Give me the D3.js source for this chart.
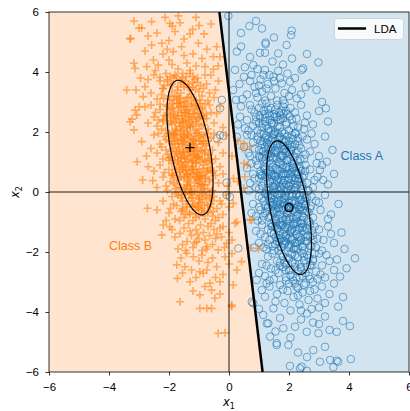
<!DOCTYPE html>
<html>
<head>
<meta charset="utf-8">
<script src="https://cdn.jsdelivr.net/npm/d3@7"></script>
<style>
  body { margin: 0; background: #fff; }
  svg { display: block; font-family: "Liberation Sans", Arial, sans-serif; }
</style>
</head>
<body>
<div id="chart"></div>
<script>
// axis ticks
var xTicks = [-6, -4, -2, 0, 2, 4, 6];
var yTicks = [-6, -4, -2, 0, 2, 4, 6];

// class means and covariance (sxx, sxy, syy) used for the 1-sigma ellipses
var classAMean = [2.0, -0.52];
var classACov = [0.56, -0.87, 4.96];
var classBMean = [-1.3, 1.48];
var classBCov = [0.59, -0.88, 5.04];

// LDA decision boundary, x at top (y=6) and bottom (y=-6)
var ldaBoundary = [[-0.32, 6], [1.12, -6]];

// text labels (data coords)
var classLabels = [
  {name: "Class A", x: 3.72, y: 1.22, cls: "A"},
  {name: "Class B", x: -4.0, y: -1.79, cls: "B"}
];

// class A samples (circles)
var classA = [
[-0.02,5.87],[0.68,5.53],[2.09,5.38],[2.07,5.23],[0.9,5.7],[1.5,5.15],[0.4,5.3],[1.1,5.45],
[1.22,4.98],[1.22,4.93],[1.03,4.64],[1.2,4.64],[1.64,4.62],[1.92,4.9],[0.26,4.68],[2.98,4.32],[2.42,4.07],[2.47,4.12],[0.81,4.23],[0.53,4.16],[0.2,4.07],[1.2,4.07],[1.64,4.04],[0.7,4.5],[1.45,4.35],[2.1,4.45],[0.95,4.1],[1.8,4.25],[0.4,4.85],[2.6,4.6],
[0.5,3.84],[1.48,3.84],[1.76,3.62],[2.03,3.68],[2.7,3.62],[2.92,3.4],[2.26,3.12],[0.14,3.4],[0.23,3.07],[0.35,3.6],[0.6,3.25],[0.75,3.9],[0.85,3.5],[0.95,3.15],[1.05,3.75],[1.1,3.35],[1.2,3.05],[1.3,3.6],[1.35,3.9],[1.4,3.2],[1.55,3.45],[1.6,3.05],[1.7,3.8],[1.85,3.3],[1.95,3.95],[2.1,3.4],[2.2,3.8],[2.4,3.25],[2.55,3.5],[1.0,3.55],[1.25,3.45],[0.45,3.1],[0.7,3.7],[1.5,3.7],[1.8,3.05],[2.0,3.2],[1.15,3.9],[0.9,3.3],[3.1,3.0],[-0.24,3.07],
[3.23,2.79],[2.53,2.31],[0.37,2.51],[0.53,2.12],[0.4,2.85],[0.6,2.4],[0.7,2.9],[0.8,2.2],[0.85,2.65],[0.95,2.05],[1.0,2.8],[1.05,2.45],[1.1,2.15],[1.15,2.7],[1.2,2.35],[1.25,2.95],[1.3,2.1],[1.35,2.55],[1.4,2.8],[1.45,2.25],[1.5,2.6],[1.55,2.0],[1.6,2.9],[1.65,2.4],[1.7,2.15],[1.75,2.7],[1.8,2.45],[1.85,2.95],[1.9,2.25],[1.95,2.6],[2.0,2.05],[2.05,2.8],[2.1,2.4],[2.2,2.65],[2.3,2.15],[2.4,2.9],[2.6,2.55],[2.8,2.25],[3.0,2.7],[1.0,2.3],[1.2,2.6],[1.4,2.05],[1.6,2.5],[1.8,2.85],[1.3,2.75],[1.1,2.95],[0.9,2.5],[1.5,2.3],[1.7,2.55],[2.15,2.2],[0.75,2.75],[1.25,2.2],[1.9,2.7],[2.5,2.1],[0.65,2.05],[1.55,2.75],[2.25,2.45],[0.3,2.25],[3.3,2.35],[-0.3,2.79],
[3.26,1.01],[0.26,1.84],[-0.41,1.79],[-0.19,1.87],[-0.3,1.9],[0.5,1.5],[0.6,1.9],[0.7,1.2],[0.8,1.65],[0.9,1.05],[0.95,1.85],[1.0,1.4],[1.05,1.7],[1.1,1.15],[1.15,1.95],[1.2,1.5],[1.25,1.25],[1.3,1.75],[1.35,1.05],[1.4,1.6],[1.45,1.9],[1.5,1.3],[1.55,1.7],[1.6,1.1],[1.65,1.45],[1.7,1.85],[1.75,1.2],[1.8,1.55],[1.85,1.95],[1.9,1.35],[1.95,1.05],[2.0,1.7],[2.05,1.4],[2.1,1.9],[2.15,1.15],[2.2,1.6],[2.25,1.3],[2.3,1.8],[2.4,1.45],[2.5,1.1],[2.6,1.75],[2.7,1.35],[2.85,1.6],[3.0,1.2],[3.2,1.85],[3.45,1.4],[1.0,1.2],[1.2,1.8],[1.4,1.3],[1.6,1.55],[1.8,1.2],[2.0,1.35],[2.2,1.95],[1.1,1.6],[1.3,1.45],[1.5,1.95],[1.7,1.6],[1.9,1.7],[2.1,1.5],[2.3,1.05],[0.85,1.45],[1.45,1.15],[1.65,1.75],[1.85,1.45],[2.45,1.85],[0.75,1.9],[1.25,1.65],[2.05,1.1],[2.35,1.55],[2.75,1.95],[1.55,1.4],[1.75,1.05],[1.15,1.35],[1.95,1.55],[0.65,1.3],[2.55,1.25],
[2.92,0.96],[3.03,0.73],[3.14,0.4],[-0.08,0.31],[0.6,0.8],[0.7,0.3],[0.8,0.6],[0.9,0.15],[0.95,0.9],[1.0,0.45],[1.05,0.7],[1.1,0.2],[1.15,0.85],[1.2,0.5],[1.25,0.05],[1.3,0.65],[1.35,0.35],[1.4,0.95],[1.45,0.2],[1.5,0.55],[1.55,0.8],[1.6,0.1],[1.65,0.45],[1.7,0.7],[1.75,0.25],[1.8,0.9],[1.85,0.4],[1.9,0.6],[1.95,0.05],[2.0,0.75],[2.05,0.3],[2.1,0.5],[2.15,0.95],[2.2,0.15],[2.25,0.65],[2.3,0.35],[2.35,0.85],[2.4,0.1],[2.5,0.55],[2.6,0.3],[2.7,0.75],[2.8,0.15],[2.95,0.5],[3.3,0.25],[3.5,0.6],[1.1,0.55],[1.3,0.3],[1.5,0.15],[1.7,0.95],[1.9,0.25],[2.1,0.8],[2.3,0.6],[1.2,0.8],[1.4,0.6],[1.6,0.35],[1.8,0.55],[2.0,0.4],[2.2,0.45],[2.4,0.7],[1.0,0.1],[1.15,0.35],[1.35,0.75],[1.55,0.5],[1.75,0.6],[1.95,0.85],[2.15,0.25],[2.35,0.45],[2.55,0.9],[2.65,0.05],[0.85,0.45],[1.25,0.95],[1.45,0.4],[1.65,0.05],[1.85,0.15],[2.05,0.6],[2.25,0.85],[2.45,0.25],[0.75,0.95],[3.1,0.9],[1.05,0.6],[1.6,0.75],[2.0,0.2],[2.85,0.4],[1.8,0.3],[2.2,0.7],[0.65,0.05],
[0.03,-0.16],[-0.08,-0.1],[0.8,-0.4],[0.9,-0.8],[1.0,-0.15],[1.05,-0.6],[1.1,-0.95],[1.15,-0.3],[1.2,-0.7],[1.25,-0.05],[1.3,-0.5],[1.35,-0.85],[1.4,-0.2],[1.45,-0.65],[1.5,-0.4],[1.55,-0.9],[1.6,-0.1],[1.65,-0.55],[1.7,-0.75],[1.75,-0.25],[1.8,-0.95],[1.85,-0.45],[1.9,-0.15],[1.95,-0.7],[2.0,-0.35],[2.05,-0.85],[2.1,-0.05],[2.15,-0.6],[2.2,-0.3],[2.25,-0.8],[2.3,-0.5],[2.35,-0.15],[2.4,-0.95],[2.45,-0.4],[2.5,-0.7],[2.6,-0.2],[2.7,-0.55],[2.8,-0.85],[2.9,-0.3],[3.05,-0.6],[3.2,-0.1],[3.4,-0.75],[3.65,-0.4],[1.2,-0.45],[1.4,-0.8],[1.6,-0.35],[1.8,-0.6],[2.0,-0.9],[2.2,-0.55],[2.4,-0.25],[2.6,-0.65],[1.3,-0.15],[1.5,-0.7],[1.7,-0.4],[1.9,-0.85],[2.1,-0.35],[2.3,-0.75],[2.5,-0.1],[1.0,-0.5],[1.15,-0.8],[1.35,-0.3],[1.55,-0.55],[1.75,-0.05],[1.95,-0.45],[2.15,-0.9],[2.35,-0.6],[2.55,-0.45],[2.75,-0.15],[0.95,-0.95],[1.25,-0.65],[1.45,-0.1],[1.65,-0.9],[1.85,-0.25],[2.05,-0.55],[2.25,-0.1],[2.45,-0.8],[2.65,-0.95],[3.0,-0.35],[1.1,-0.2],[1.6,-0.65],[2.0,-0.1],[2.4,-0.5],[0.75,-0.7],[3.3,-0.9],[1.9,-0.55],[1.5,-0.25],
[0.31,-1.88],[0.9,-1.3],[1.0,-1.7],[1.1,-1.1],[1.2,-1.5],[1.25,-1.9],[1.3,-1.25],[1.35,-1.6],[1.4,-1.05],[1.45,-1.8],[1.5,-1.4],[1.55,-1.15],[1.6,-1.65],[1.65,-1.95],[1.7,-1.3],[1.75,-1.55],[1.8,-1.1],[1.85,-1.75],[1.9,-1.45],[1.95,-1.2],[2.0,-1.85],[2.05,-1.35],[2.1,-1.6],[2.15,-1.05],[2.2,-1.7],[2.25,-1.4],[2.3,-1.9],[2.35,-1.2],[2.4,-1.55],[2.45,-1.8],[2.5,-1.3],[2.6,-1.65],[2.7,-1.1],[2.8,-1.45],[2.9,-1.85],[3.0,-1.25],[3.15,-1.6],[3.3,-1.15],[3.5,-1.7],[3.75,-1.35],[1.3,-1.75],[1.5,-1.95],[1.7,-1.1],[1.9,-1.65],[2.1,-1.25],[2.3,-1.5],[2.5,-1.95],[2.7,-1.5],[1.4,-1.35],[1.6,-1.2],[1.8,-1.4],[2.0,-1.15],[2.2,-1.3],[2.4,-1.05],[2.6,-1.25],[1.15,-1.85],[1.55,-1.5],[1.75,-1.85],[1.95,-1.55],[2.15,-1.9],[2.35,-1.65],[2.55,-1.5],[2.85,-1.15],[1.05,-1.4],[1.65,-1.45],[2.05,-1.75],[2.45,-1.2],[3.1,-1.95],[0.85,-1.85],[1.85,-1.25],[2.25,-1.05],[3.4,-1.4],[2.95,-1.55],[1.45,-1.15],[2.75,-1.8],[3.85,-1.9],
[0.92,-2.93],[4.2,-2.21],[3.92,-2.54],[3.7,-2.82],[1.1,-2.4],[1.2,-2.8],[1.3,-2.15],[1.4,-2.55],[1.5,-2.9],[1.6,-2.3],[1.65,-2.7],[1.75,-2.05],[1.8,-2.5],[1.9,-2.85],[1.95,-2.2],[2.0,-2.6],[2.1,-2.35],[2.15,-2.95],[2.2,-2.1],[2.3,-2.65],[2.35,-2.4],[2.45,-2.8],[2.5,-2.15],[2.6,-2.5],[2.7,-2.9],[2.8,-2.3],[2.9,-2.65],[3.0,-2.05],[3.1,-2.45],[3.2,-2.85],[3.35,-2.3],[3.5,-2.6],[1.45,-2.05],[1.85,-2.35],[2.25,-2.85],[2.65,-2.2],[3.05,-2.75],[1.0,-2.7],[1.35,-2.95],[2.05,-2.05],[2.4,-2.55],[2.75,-2.45],[1.7,-2.45],[2.55,-2.7],[3.25,-2.1],[2.85,-2.05],[1.55,-2.6],[1.25,-2.45],[2.95,-2.9],[3.6,-2.25],[1.9,-2.6],[2.2,-2.5],
[1.09,-3.27],[1.2,-3.49],[1.48,-3.88],[0.76,-3.66],[0.81,-3.71],[3.64,-3.82],[1.35,-3.15],[1.6,-3.4],[1.7,-3.1],[1.85,-3.7],[1.95,-3.3],[2.05,-3.95],[2.15,-3.5],[2.25,-3.15],[2.35,-3.75],[2.45,-3.35],[2.55,-3.05],[2.65,-3.6],[2.75,-3.9],[2.85,-3.25],[2.95,-3.55],[3.1,-3.15],[3.2,-3.7],[3.35,-3.4],[3.5,-3.05],[3.8,-3.5],[1.0,-3.9],[1.55,-3.65],[2.0,-3.05],[2.4,-3.95],[2.7,-3.3],[3.0,-3.85],[1.25,-3.05],[1.8,-3.25],[2.3,-3.45],
[4.03,-4.47],[3.59,-4.66],[1.37,-4.82],[1.14,-4.1],[1.26,-4.38],[2.59,-4.66],[2.98,-4.71],[2.2,-4.49],[1.81,-4.54],[1.31,-4.38],[1.7,-4.2],[2.4,-4.25],[2.8,-4.35],[3.2,-4.15],[3.35,-4.6],[1.55,-4.65],[2.05,-4.85],[2.6,-4.05],[3.0,-4.4],[3.8,-4.3],
[4.06,-5.57],[3.59,-5.62],[3.48,-5.84],[2.03,-5.8],[2.37,-5.88],[2.59,-5.96],[3.03,-5.66],[3.37,-5.6],[3.64,-5.66],[2.42,-5.82],[2.81,-5.27],[3.2,-5.16],[1.59,-5.1],[1.98,-5.1],[1.59,-5.04],[2.3,-5.35],[2.6,-5.5],
[0.9,2.35],[1.02,2.55],[1.12,2.28],[1.22,2.48],[1.32,2.62],[1.42,2.3],[1.52,2.5],[1.62,2.2],[1.72,2.42],[1.82,2.6],[1.92,2.32],[2.02,2.52],[1.37,2.4],[1.67,2.65],
[0.95,1.75],[1.05,1.95],[1.14,1.68],[1.23,1.88],[1.32,2.02],[1.41,1.72],[1.5,1.92],[1.59,1.6],[1.68,1.82],[1.77,2.0],[1.86,1.66],[1.95,1.86],[2.04,1.58],[2.13,1.78],[2.22,1.98],[1.28,1.6],[1.46,1.78],[1.64,1.96],[1.82,1.74],[2.3,1.7],
[1.02,1.15],[1.12,1.35],[1.21,1.08],[1.3,1.28],[1.39,1.42],[1.48,1.12],[1.57,1.32],[1.66,1.0],[1.75,1.22],[1.84,1.4],[1.93,1.06],[2.02,1.26],[2.11,0.98],[2.2,1.18],[2.29,1.38],[2.38,1.1],[1.36,1.18],[1.54,1.38],[1.72,1.14],[1.9,1.3],[2.08,1.42],[1.16,1.22],
[1.1,0.55],[1.19,0.75],[1.28,0.48],[1.37,0.68],[1.46,0.82],[1.55,0.52],[1.64,0.72],[1.73,0.4],[1.82,0.62],[1.91,0.8],[2.0,0.46],[2.09,0.66],[2.18,0.38],[2.27,0.58],[2.36,0.78],[2.45,0.5],[2.54,0.7],[1.42,0.56],[1.6,0.4],[1.78,0.78],[1.96,0.6],[2.14,0.82],[2.32,0.44],[1.24,0.64],
[1.2,-0.05],[1.29,0.15],[1.38,-0.12],[1.47,0.08],[1.56,0.22],[1.65,-0.08],[1.74,0.12],[1.83,-0.2],[1.92,0.02],[2.01,0.2],[2.1,-0.14],[2.19,0.06],[2.28,0.24],[2.37,-0.1],[2.46,0.1],[2.55,-0.18],[2.64,0.04],[1.52,-0.02],[1.7,0.18],[1.88,-0.12],[2.06,0.1],[2.24,-0.06],[2.42,0.2],[1.34,0.06],
[1.3,-0.55],[1.39,-0.35],[1.48,-0.62],[1.57,-0.42],[1.66,-0.28],[1.75,-0.58],[1.84,-0.38],[1.93,-0.7],[2.02,-0.48],[2.11,-0.3],[2.2,-0.64],[2.29,-0.44],[2.38,-0.26],[2.47,-0.6],[2.56,-0.4],[2.65,-0.68],[2.74,-0.46],[1.62,-0.52],[1.8,-0.32],[1.98,-0.62],[2.16,-0.4],[2.34,-0.56],[2.52,-0.3],[1.44,-0.44],
[1.42,-1.15],[1.51,-0.95],[1.6,-1.22],[1.69,-1.02],[1.78,-0.88],[1.87,-1.18],[1.96,-0.98],[2.05,-1.3],[2.14,-1.08],[2.23,-0.9],[2.32,-1.24],[2.41,-1.04],[2.5,-0.86],[2.59,-1.2],[2.68,-1.0],[2.77,-1.28],[1.74,-1.12],[1.92,-0.92],[2.1,-1.22],[2.28,-1.0],[2.46,-1.16],[1.56,-1.04],
[1.55,-1.75],[1.64,-1.55],[1.73,-1.82],[1.82,-1.62],[1.91,-1.48],[2.0,-1.78],[2.09,-1.58],[2.18,-1.9],[2.27,-1.68],[2.36,-1.5],[2.45,-1.84],[2.54,-1.64],[2.63,-1.46],[2.72,-1.8],[2.81,-1.6],[1.86,-1.72],[2.04,-1.52],[2.22,-1.82],[2.4,-1.6],[1.68,-1.66],
[1.7,-2.35],[1.8,-2.15],[1.9,-2.42],[2.0,-2.22],[2.1,-2.08],[2.2,-2.38],[2.3,-2.18],[2.4,-2.5],[2.5,-2.28],[2.6,-2.1],[2.7,-2.44],[2.8,-2.24],[2.05,-2.6],[2.45,-2.04],
[1.9,-2.95],[2.05,-2.78],[2.2,-3.05],[2.35,-2.85],[2.5,-3.1],[2.65,-2.8],[2.8,-3.0],[2.3,-3.2]
];

// class B samples (plus markers)
var classB = [
[-3.17,5.7],[-3.3,5.1],[-3.0,5.47],[-2.91,5.46],[-2.58,5.68],[-2.13,5.82],[-1.97,5.62],[-1.69,5.87],[-1.63,5.64],[-1.89,5.53],[-1.1,5.82],[-1.21,5.42],[-0.83,5.27],[-1.3,5.27],[-3.28,5.12],[-2.4,5.3],[-1.5,5.1],[-2.0,5.05],[-0.6,5.6],[-2.7,5.2],[-1.8,5.35],[-1.0,5.55],
[-2.58,4.9],[-2.24,4.96],[-2.06,4.76],[-1.86,4.68],[-1.58,4.84],[-1.02,4.96],[-0.74,4.76],[-0.41,4.84],[-0.52,4.51],[-3.17,4.29],[-3.13,4.12],[-2.74,4.18],[-2.52,4.4],[-2.36,4.23],[-0.8,4.18],[-0.52,4.09],[-0.36,4.2],[-0.3,4.51],[-1.2,4.6],[-1.4,4.3],[-1.7,4.1],[-2.0,4.4],[-2.2,4.6],[-1.1,4.2],[-0.9,4.45],[-1.5,4.55],[-2.8,4.7],[-1.9,4.25],[-1.3,4.05],[-2.45,4.05],
[-3.41,3.4],[-3.1,3.4],[-2.8,3.51],[-2.86,3.18],[-2.5,3.9],[-2.3,3.7],[-2.1,3.95],[-1.9,3.6],[-1.75,3.85],[-1.6,3.3],[-1.45,3.7],[-1.3,3.95],[-1.2,3.5],[-1.05,3.8],[-0.9,3.2],[-0.75,3.6],[-0.6,3.9],[-0.45,3.4],[-0.35,3.7],[-2.6,3.3],[-2.4,3.1],[-2.2,3.45],[-2.0,3.2],[-1.85,3.05],[-1.7,3.5],[-1.55,3.95],[-1.4,3.15],[-1.25,3.25],[-1.1,3.05],[-0.95,3.55],[-0.8,3.9],[-0.65,3.3],[-2.05,3.75],[-1.65,3.1],[-1.35,3.6],[-1.15,3.75],[-1.9,3.35],[-1.5,3.5],[-1.0,3.35],[-2.25,3.25],[-1.8,3.9],[-1.45,3.0],[-1.2,3.85],[-0.7,3.05],[-2.7,3.75],[-2.95,3.8],[-0.5,3.15],[-1.6,3.65],[-1.3,3.4],[-1.75,3.2],[-2.15,3.55],[-0.85,3.45],[-1.05,3.65],[-1.55,3.8],[-1.95,3.85],
[-2.99,2.84],[-2.8,2.84],[-3.3,2.34],[-3.17,2.07],[-3.13,2.73],[-3.07,2.57],[-3.23,2.43],[-0.41,2.62],[-2.6,2.9],[-2.5,2.5],[-2.4,2.2],[-2.3,2.75],[-2.2,2.4],[-2.1,2.05],[-2.05,2.9],[-1.95,2.6],[-1.9,2.25],[-1.85,2.8],[-1.8,2.1],[-1.75,2.45],[-1.7,2.95],[-1.65,2.3],[-1.6,2.65],[-1.55,2.05],[-1.5,2.85],[-1.45,2.4],[-1.4,2.15],[-1.35,2.7],[-1.3,2.5],[-1.25,2.95],[-1.2,2.2],[-1.15,2.6],[-1.1,2.35],[-1.05,2.8],[-1.0,2.1],[-0.95,2.5],[-0.9,2.75],[-0.85,2.25],[-0.8,2.95],[-0.75,2.45],[-0.7,2.1],[-0.6,2.65],[-0.5,2.3],[-0.3,2.85],[-0.2,2.15],[-2.7,2.3],[-2.45,2.65],[-2.15,2.55],[-1.95,2.35],[-1.7,2.7],[-1.55,2.55],[-1.4,2.85],[-1.25,2.35],[-1.15,2.05],[-1.0,2.65],[-0.85,2.55],[-1.6,2.2],[-1.8,2.55],[-2.0,2.75],[-1.35,2.25],[-1.05,2.45],[-1.5,2.1],[-1.9,2.95],[-2.25,2.1],[-1.2,2.75],[-0.95,2.95],[-1.75,2.05],[-1.45,2.65],[-1.65,2.85],[-2.35,2.4],[-0.65,2.9],[-1.3,2.15],[-1.1,2.9],[-1.85,2.4],[-1.55,2.35],
[-2.91,1.68],[-3.06,1.01],[0.7,1.51],[0.5,1.62],[-2.5,1.9],[-2.4,1.3],[-2.3,1.6],[-2.2,1.1],[-2.15,1.85],[-2.1,1.4],[-2.0,1.7],[-1.95,1.15],[-1.9,1.95],[-1.85,1.45],[-1.8,1.2],[-1.75,1.75],[-1.7,1.05],[-1.65,1.5],[-1.6,1.9],[-1.55,1.3],[-1.5,1.65],[-1.45,1.1],[-1.4,1.8],[-1.35,1.35],[-1.3,1.55],[-1.25,1.0],[-1.2,1.75],[-1.15,1.25],[-1.1,1.95],[-1.05,1.45],[-1.0,1.15],[-0.95,1.7],[-0.9,1.35],[-0.85,1.9],[-0.8,1.05],[-0.75,1.55],[-0.7,1.25],[-0.6,1.8],[-0.55,1.4],[-0.45,1.1],[-0.35,1.65],[-0.2,1.3],[-0.1,1.9],[0.1,1.2],[-2.6,1.45],[-2.75,1.2],[-2.35,1.95],[-2.05,1.25],[-1.9,1.6],[-1.75,1.35],[-1.6,1.15],[-1.5,1.85],[-1.4,1.45],[-1.3,1.2],[-1.2,1.4],[-1.1,1.6],[-1.0,1.85],[-0.9,1.6],[-0.8,1.4],[-0.65,1.05],[-1.85,1.8],[-1.7,1.6],[-1.55,1.7],[-1.45,1.55],[-1.35,1.9],[-1.25,1.65],[-1.15,1.5],[-1.05,1.2],[-0.95,1.0],[-1.65,1.25],[-2.25,1.5],[-1.95,1.9],[-1.5,1.35],[-1.2,1.05],[-0.85,1.7],[-0.7,1.95],[-2.0,1.05],[-1.8,1.95],[-1.4,1.0],[-1.1,1.35],[-0.5,1.95],[0.3,1.7],[0.45,1.45],
[-2.88,0.4],[-2.54,0.38],[-2.69,0.84],[-0.63,0.73],[-0.3,0.84],[0.61,0.9],[0.5,0.96],[0.53,0.51],[0.5,0.12],[-2.3,0.9],[-2.2,0.5],[-2.1,0.2],[-2.0,0.75],[-1.95,0.35],[-1.9,0.95],[-1.85,0.55],[-1.8,0.1],[-1.75,0.8],[-1.7,0.4],[-1.65,0.65],[-1.6,0.15],[-1.55,0.9],[-1.5,0.45],[-1.45,0.7],[-1.4,0.25],[-1.35,0.85],[-1.3,0.5],[-1.25,0.05],[-1.2,0.6],[-1.15,0.3],[-1.1,0.95],[-1.05,0.4],[-1.0,0.75],[-0.95,0.15],[-0.9,0.55],[-0.85,0.9],[-0.8,0.25],[-0.75,0.65],[-0.65,0.35],[-0.55,0.05],[-0.45,0.55],[-0.35,0.3],[-0.2,0.6],[-0.05,0.2],[0.15,0.45],[-2.5,0.7],[-2.4,0.15],[-1.75,0.25],[-1.6,0.5],[-1.45,0.1],[-1.35,0.35],[-1.2,0.85],[-1.05,0.65],[-0.95,0.45],[-0.85,0.1],[-0.7,0.8],[-1.9,0.6],[-2.05,0.05],[-1.55,0.75],[-1.3,0.2],[-1.1,0.5],[-0.6,0.95],[-1.65,0.95],[-1.4,0.6],[-1.0,0.3],[-0.8,0.45],[-2.15,0.65],[-1.25,0.75],[-0.5,0.7],[0.3,0.35],[-1.85,0.3],[-1.5,0.85],[-0.9,0.25],
[-2.72,-0.54],[0.14,-0.38],[-2.2,-0.3],[-2.0,-0.7],[-1.9,-0.15],[-1.8,-0.9],[-1.75,-0.45],[-1.7,-0.1],[-1.6,-0.65],[-1.55,-0.3],[-1.5,-0.85],[-1.45,-0.05],[-1.4,-0.5],[-1.3,-0.75],[-1.25,-0.2],[-1.2,-0.95],[-1.15,-0.4],[-1.1,-0.6],[-1.05,-0.1],[-1.0,-0.8],[-0.95,-0.35],[-0.9,-0.55],[-0.85,-0.05],[-0.8,-0.9],[-0.75,-0.25],[-0.7,-0.65],[-0.6,-0.4],[-0.55,-0.8],[-0.5,-0.15],[-0.4,-0.55],[-0.3,-0.3],[-0.2,-0.75],[-0.1,-0.1],[0.0,-0.5],[-2.4,-0.6],[-1.65,-0.95],[-1.35,-0.3],[-1.2,-0.45],[-1.0,-0.25],[-0.85,-0.7],[-0.65,-0.1],[-1.55,-0.6],[-1.85,-0.4],[-1.1,-0.85],[-0.45,-0.95],[-1.45,-0.75],[-0.9,-0.2],[-0.7,-0.45],[-1.3,-0.05],[-0.35,-0.85],[-2.1,-0.95],[-1.6,-0.2],[-0.25,-0.4],[-1.95,-0.55],[-0.55,-0.3],[-1.05,-0.5],[0.7,-0.93],[0.76,-0.93],
[-2.19,-1.1],[-2.24,-1.43],[-1.97,-1.16],[-1.63,-1.38],[-1.08,-1.66],[-0.74,-1.82],[-0.36,-1.93],[-0.08,-1.71],[0.2,-1.04],[0.26,-1.0],[-1.8,-1.5],[-1.7,-1.9],[-1.5,-1.2],[-1.4,-1.65],[-1.35,-1.05],[-1.25,-1.45],[-1.2,-1.85],[-1.1,-1.25],[-1.0,-1.55],[-0.95,-1.1],[-0.9,-1.95],[-0.85,-1.35],[-0.8,-1.6],[-0.7,-1.15],[-0.65,-1.45],[-0.55,-1.75],[-0.5,-1.25],[-0.45,-1.55],[-0.3,-1.2],[-0.25,-1.5],[-0.15,-1.85],[0.0,-1.35],[-1.55,-1.75],[-1.15,-1.7],[-0.6,-1.05],[-1.9,-1.25],[-1.3,-1.3],[-0.4,-1.4],[-0.75,-1.9],[-1.05,-1.4],[0.1,-1.6],[-0.2,-1.15],[-1.45,-1.95],
[-1.74,-2.43],[-1.72,-2.88],[-1.47,-2.49],[-1.3,-2.99],[-0.86,-2.71],[-0.63,-3.04],[-0.3,-2.99],[-1.19,-2.16],[-1.41,-2.04],[-0.74,-2.6],[-0.97,-2.66],[-0.41,-2.49],[-0.13,-2.16],[0.26,-2.6],[0.42,-2.32],[0.98,-1.88],[0.7,-1.87],[-1.6,-2.2],[-1.0,-2.3],[-0.55,-2.2],[-0.2,-2.75],[-1.25,-2.6],[-0.7,-2.35],[-1.1,-2.85],[0.0,-2.4],[-0.45,-2.85],[-0.9,-2.1],[-1.55,-2.7],[0.1,-2.05],
[-1.63,-3.66],[-0.97,-3.43],[-0.97,-3.88],[-0.74,-3.88],[-0.58,-3.88],[-0.47,-3.54],[-0.58,-3.27],[0.09,-3.77],[0.14,-3.1],[0.09,-3.82],[-1.2,-3.3],[-0.3,-3.4],[-0.8,-3.15],
[-0.36,-4.71],[-0.13,-4.69],
[-2.2,3.45],[-2.05,3.7],[-1.95,3.55],[-1.85,3.8],[-1.72,3.4],[-1.62,3.72],[-1.5,3.58],[-1.42,3.85],[-1.33,3.48],[-1.22,3.66],[-1.12,3.42],[-2.3,3.82],
[-2.3,2.92],[-2.18,3.12],[-2.08,2.85],[-1.98,3.08],[-1.9,2.78],[-1.82,3.18],[-1.74,2.95],[-1.66,3.14],[-1.58,2.82],[-1.5,3.02],[-1.42,2.74],[-1.34,3.16],[-1.26,2.9],[-1.18,3.1],[-1.08,2.86],[-0.98,3.06],[-0.88,2.8],[-1.62,2.98],
[-2.2,2.35],[-2.1,2.55],[-2.02,2.28],[-1.94,2.48],[-1.86,2.62],[-1.78,2.32],[-1.7,2.52],[-1.63,2.18],[-1.56,2.44],[-1.49,2.64],[-1.42,2.3],[-1.36,2.5],[-1.29,2.2],[-1.22,2.42],[-1.15,2.62],[-1.08,2.28],[-1.0,2.5],[-0.92,2.22],[-0.84,2.44],[-0.76,2.6],[-1.52,2.36],[-1.32,2.58],
[-2.1,1.75],[-2.0,1.95],[-1.92,1.68],[-1.84,1.88],[-1.76,2.02],[-1.69,1.72],[-1.62,1.92],[-1.55,1.6],[-1.48,1.82],[-1.41,2.0],[-1.34,1.66],[-1.27,1.86],[-1.2,1.58],[-1.13,1.78],[-1.06,1.98],[-0.99,1.7],[-0.92,1.9],[-0.85,1.62],[-0.78,1.84],[-0.7,1.7],[-1.58,1.76],[-1.38,1.94],[-1.18,1.72],[-1.8,1.6],
[-2.0,1.15],[-1.9,1.35],[-1.82,1.08],[-1.74,1.28],[-1.66,1.42],[-1.59,1.12],[-1.52,1.32],[-1.45,1.0],[-1.38,1.22],[-1.31,1.4],[-1.24,1.06],[-1.17,1.26],[-1.1,0.98],[-1.03,1.18],[-0.96,1.38],[-0.89,1.1],[-0.82,1.3],[-0.75,1.02],[-0.68,1.24],[-0.6,1.1],[-1.48,1.16],[-1.28,1.34],[-1.08,1.12],[-1.7,1.0],
[-1.9,0.55],[-1.8,0.75],[-1.72,0.48],[-1.64,0.68],[-1.56,0.82],[-1.49,0.52],[-1.42,0.72],[-1.35,0.4],[-1.28,0.62],[-1.21,0.8],[-1.14,0.46],[-1.07,0.66],[-1.0,0.38],[-0.93,0.58],[-0.86,0.78],[-0.79,0.5],[-0.72,0.7],[-0.65,0.42],[-0.58,0.64],[-1.38,0.56],[-1.18,0.74],[-0.98,0.52],
[-1.75,-0.05],[-1.65,0.15],[-1.57,-0.12],[-1.49,0.08],[-1.41,0.22],[-1.34,-0.08],[-1.27,0.12],[-1.2,-0.2],[-1.13,0.02],[-1.06,0.2],[-0.99,-0.14],[-0.92,0.06],[-0.85,0.24],[-0.78,-0.1],[-0.71,0.1],[-0.64,-0.18],[-0.57,0.04],[-1.25,-0.02],
[-1.55,-0.55],[-1.42,-0.4],[-1.32,-0.68],[-1.22,-0.48],[-1.12,-0.72],[-1.02,-0.52],[-0.92,-0.62],[-0.82,-0.42],[-0.72,-0.7],[-0.62,-0.5],[-0.52,-0.65],[-1.0,-0.35]
];

var width = 410,
  height = 411,
  margin = {left: 49, right: 1, top: 12, bottom: 39};

var x = d3.scaleLinear().domain([-6, 6]).range([margin.left, width - margin.right]);
var y = d3.scaleLinear().domain([-6, 6]).range([height - margin.bottom, margin.top]);

var blue = "#1f77b4", orange = "#ff7f0e";

var svg = d3.select("#chart")
  .append("svg")
  .attr("width", width)
  .attr("height", height);

svg.append("clipPath")
  .attr("id", "plotclip")
  .append("rect")
  .attr("x", x(-6)).attr("y", y(6))
  .attr("width", x(6) - x(-6)).attr("height", y(-6) - y(6));

var plot = svg.append("g").attr("clip-path", "url(#plotclip)");

// decision regions
var line = d3.line().x(d => x(d[0])).y(d => y(d[1]));
var bTop = ldaBoundary[0], bBottom = ldaBoundary[1];
plot.append("path")
  .attr("d", line([[-6, 6], bTop, bBottom, [-6, -6]]) + "Z")
  .style("fill", orange).style("fill-opacity", 0.2);
plot.append("path")
  .attr("d", line([bTop, [6, 6], [6, -6], bBottom]) + "Z")
  .style("fill", blue).style("fill-opacity", 0.2);

// class A circles
plot.selectAll(".ptA")
  .data(classA)
  .enter()
  .append("circle")
  .attr("class", "ptA")
  .attr("cx", d => x(d[0]))
  .attr("cy", d => y(d[1]))
  .attr("r", 3.8)
  .style("fill", "none")
  .style("stroke", blue)
  .style("stroke-width", 1)
  .style("stroke-opacity", 0.6);

// class B plus markers
plot.selectAll(".ptB")
  .data(classB)
  .enter()
  .append("path")
  .attr("class", "ptB")
  .attr("d", d => "M" + (x(d[0]) - 4) + "," + y(d[1]) + "h8M" + x(d[0]) + "," + (y(d[1]) - 4) + "v8")
  .style("stroke", orange)
  .style("stroke-width", 1.6)
  .style("stroke-opacity", 0.6);

// zero lines
plot.append("line")
  .attr("x1", x(-6)).attr("x2", x(6)).attr("y1", y(0)).attr("y2", y(0))
  .style("stroke", "#000").style("stroke-width", 0.9);
plot.append("line")
  .attr("x1", x(0)).attr("x2", x(0)).attr("y1", y(-6)).attr("y2", y(6))
  .style("stroke", "#000").style("stroke-width", 0.9);

// 1-sigma ellipses
function ellipsePath(mean, cov) {
  var a = Math.sqrt(cov[0]);
  var b = cov[1] / a;
  var c = Math.sqrt(cov[2] - b * b);
  var pts = d3.range(0, 2 * Math.PI + 0.01, Math.PI / 90).map(function(t) {
    return [mean[0] + a * Math.cos(t), mean[1] + b * Math.cos(t) + c * Math.sin(t)];
  });
  return line(pts);
}
plot.append("path").attr("d", ellipsePath(classAMean, classACov))
  .style("fill", "none").style("stroke", "#000").style("stroke-width", 1.2);
plot.append("path").attr("d", ellipsePath(classBMean, classBCov))
  .style("fill", "none").style("stroke", "#000").style("stroke-width", 1.2);

// means
plot.append("circle")
  .attr("cx", x(classAMean[0])).attr("cy", y(classAMean[1])).attr("r", 4)
  .style("fill", "none").style("stroke", "#000").style("stroke-width", 1.5);
plot.append("path")
  .attr("d", "M" + (x(classBMean[0]) - 4.5) + "," + y(classBMean[1]) + "h9M" + x(classBMean[0]) + "," + (y(classBMean[1]) - 4.5) + "v9")
  .style("stroke", "#000").style("stroke-width", 1.3);

// LDA boundary
plot.append("path")
  .attr("d", line(ldaBoundary))
  .style("stroke", "#000").style("stroke-width", 2.5).style("fill", "none");

// class labels
svg.selectAll(".clabel")
  .data(classLabels)
  .enter()
  .append("text")
  .attr("x", d => x(d.x))
  .attr("y", d => y(d.y))
  .attr("dy", "0.35em")
  .style("font-size", "12.5px")
  .style("fill", d => d.cls == "A" ? blue : orange)
  .text(d => d.name);

// axes
var xAxis = svg.append("g")
  .attr("transform", "translate(0," + y(-6) + ")")
  .call(d3.axisBottom(x).tickValues(xTicks).tickSize(3.5).tickSizeOuter(0).tickPadding(7));
var yAxis = svg.append("g")
  .attr("transform", "translate(" + x(-6) + ",0)")
  .call(d3.axisLeft(y).tickValues(yTicks).tickSize(3.5).tickSizeOuter(0).tickPadding(6.5));
[xAxis, yAxis].forEach(function(g) {
  g.select(".domain").remove();
  g.selectAll("text").style("font-size", "11.5px").style("font-family", "Liberation Sans, Arial, sans-serif").style("fill", "#000");
  g.selectAll("line").style("stroke", "#000").style("stroke-width", 0.8);
});

// frame
svg.append("rect")
  .attr("x", x(-6)).attr("y", y(6))
  .attr("width", x(6) - x(-6)).attr("height", y(-6) - y(6))
  .style("fill", "none").style("stroke", "#000").style("stroke-width", 0.8);

// axis labels
var xl = svg.append("text")
  .attr("x", x(0)).attr("y", 406)
  .attr("text-anchor", "middle")
  .style("font-family", "DejaVu Sans, sans-serif")
  .style("font-size", "11.5px");
xl.append("tspan").style("font-style", "italic").text("x");
xl.append("tspan").attr("dy", 3).style("font-size", "8px").text("1");

var yl = svg.append("text")
  .attr("transform", "translate(19," + y(0) + ") rotate(-90)")
  .attr("text-anchor", "middle")
  .style("font-family", "DejaVu Sans, sans-serif")
  .style("font-size", "11.5px");
yl.append("tspan").style("font-style", "italic").text("x");
yl.append("tspan").attr("dy", 3).style("font-size", "8px").text("2");

// legend
var legend = svg.append("g");
legend.append("rect")
  .attr("x", 334.5).attr("y", 18.5).attr("width", 69).attr("height", 21).attr("rx", 3)
  .style("fill", "#fff").style("fill-opacity", 0.8)
  .style("stroke", "#ccc").style("stroke-width", 0.8);
legend.append("line")
  .attr("x1", 338).attr("x2", 366).attr("y1", 28.5).attr("y2", 28.5)
  .style("stroke", "#000").style("stroke-width", 2.5);
legend.append("text")
  .attr("x", 374).attr("y", 32.8)
  .style("font-size", "11.5px")
  .text("LDA");
</script>
</body>
</html>
